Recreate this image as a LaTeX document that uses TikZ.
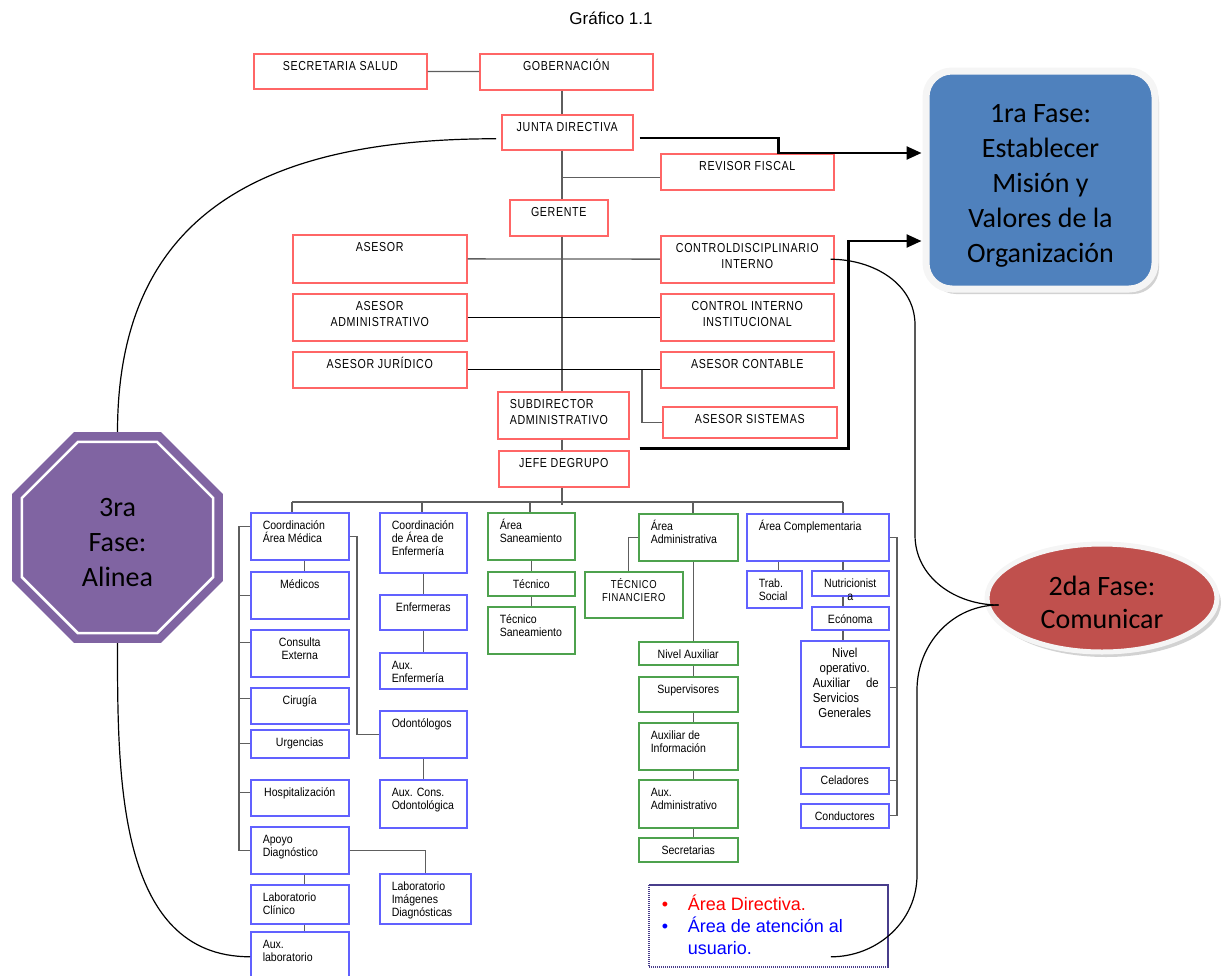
\documentclass[tikz,border=0pt,svgnames]{standalone}
\usepackage{fontspec}
\setmainfont{Liberation Sans}
\newfontfamily\capsfont[LetterSpace=5, FakeStretch=0.82]{Liberation Sans}
\newfontfamily\boxfont[FakeStretch=0.88]{Liberation Sans}
\newfontfamily\fasefont{Carlito}
\usepackage{xcolor}
\usetikzlibrary{shapes.geometric, arrows.meta, positioning, calc, shadows}
\colorlet{DirLine}{Red!60}
\colorlet{UsrLine}{Blue!62}
\colorlet{SanLine}{ForestGreen!80}
\colorlet{LinkLine}{DimGray!90!black}
\colorlet{RimLine}{WhiteSmoke}
\colorlet{LegendLine}{DarkSlateBlue}
\definecolor{FaseBlue}{HTML}{4F81BD}
\definecolor{FaseRed}{HTML}{C0504D}
\definecolor{FasePurple}{HTML}{8064A2}

% box size with text set from the top
\tikzset{
    sz/.style 2 args={anchor=north west,
        execute at begin node={\begin{minipage}[c][#2pt][t]{#1pt}\centering\rule{0pt}{17pt}},
        execute at end node={\endgraf\end{minipage}}},
    szl/.style 2 args={anchor=north west,
        execute at begin node={\begin{minipage}[c][#2pt][t]{#1pt}\raggedright\leftskip=12pt\rule{0pt}{17pt}},
        execute at end node={\endgraf\end{minipage}}},
    fase/.style={fill=#1, draw=RimLine, text=black, align=center,
        font=\fasefont\fontsize{28}{35}\selectfont}
}

\begin{document}
\begin{tikzpicture}[
    x=1pt, y=-1pt,
    orgbox/.style={rectangle, inner sep=0pt, fill=white, line width=1.5pt},
    dirbox/.style={orgbox, draw=DirLine, font=\capsfont\fontsize{13}{16}\selectfont},
    usrbox/.style={orgbox, draw=UsrLine, font=\boxfont\fontsize{12}{13}\selectfont},
    sanbox/.style={orgbox, draw=SanLine, font=\boxfont\fontsize{12}{13}\selectfont},
    link/.style={draw=LinkLine, line width=1.3pt},
    solidlink/.style={draw=black, line width=0.9pt},
    faseshadow/.style={drop shadow={shadow xshift=4pt, shadow yshift=-5pt, fill=Gray!70}},
    fasecurve/.style={black, line width=1.2pt},
    fasearrow/.style={black, line width=2.4pt, -{Triangle[length=15pt, width=13pt]}}
]
\clip (0,0) rectangle (1222,975);

\node[font=\fontsize{17}{20}\selectfont] (titulo) at (611,18) {Gráfico 1.1};

% ===================================================================
% AREA DIRECTIVA (red)
% ===================================================================
\node[dirbox, sz={173}{35}] (secsalud) at (253,53) {SECRETARIA SALUD};
\node[dirbox, sz={173}{36}] (gob) at (479,53) {GOBERNACIÓN};
\node[dirbox, sz={131}{35}] (junta) at (501,114) {JUNTA DIRECTIVA};
\node[dirbox, sz={173}{36}] (revisor) at (660,153) {REVISOR FISCAL};
\node[dirbox, sz={98}{36}] (gerente) at (509,199) {GERENTE};
\node[dirbox, sz={174}{48}] (asesor) at (292,234) {ASESOR};
\node[dirbox, sz={173}{47}] (ctrldisc) at (660,235) {CONTROLDISCIPLINARIO\\INTERNO};
\node[dirbox, sz={174}{47}] (asesadm) at (292,293) {ASESOR\\ADMINISTRATIVO};
\node[dirbox, sz={173}{47}] (ctrlint) at (660,293) {CONTROL INTERNO\\INSTITUCIONAL};
\node[dirbox, sz={174}{36}] (asesjur) at (292,351) {ASESOR JURÍDICO};
\node[dirbox, sz={173}{36}] (contable) at (660,351) {ASESOR CONTABLE};
\node[dirbox, szl={131}{47}] (subdir) at (497,391) {SUBDIRECTOR\\ADMINISTRATIVO};
\node[dirbox, sz={174}{31}] (sistemas) at (662,406) {ASESOR SISTEMAS};
\node[dirbox, sz={130}{36}] (jefe) at (498,450) {JEFE DEGRUPO};

% ===================================================================
% AREA DE ATENCION AL USUARIO (blue / green)
% ===================================================================
% --- Area medica ---
\node[usrbox, szl={98}{47}] (medica) at (250,512) {Coordinación\\Área Médica};
\node[usrbox, sz={98}{47}] (medicos) at (250,571) {Médicos};
\node[usrbox, sz={98}{47}] (consulta) at (250,629) {Consulta\\Externa};
\node[usrbox, sz={98}{36}] (cirugia) at (250,687) {Cirugía};
\node[usrbox, sz={98}{28}] (urgencias) at (250,729) {Urgencias};
\node[usrbox, sz={98}{36}] (hosp) at (250,779) {Hospitalización};
\node[usrbox, szl={98}{47}] (apoyo) at (250,826) {Apoyo\\Diagnóstico};
\node[usrbox, szl={98}{39}] (labclin) at (250,884) {Laboratorio\\Clínico};
\node[usrbox, szl={98}{50}] (auxlab) at (250,931) {Aux.\\laboratorio};

% --- Enfermeria ---
\node[usrbox, szl={87}{60}] (enfcoord) at (379,512) {Coordinación\\de Área de\\Enfermería};
\node[usrbox, sz={87}{35}] (enfermeras) at (379,594) {Enfermeras};
\node[usrbox, szl={87}{36}] (auxenf) at (379,652) {Aux.\\Enfermería};
\node[usrbox, szl={87}{47}] (odonto) at (379,710) {Odontólogos};
\node[usrbox, szl={87}{48}] (auxodon) at (379,779) {Aux. Cons.\\Odontológica};
\node[usrbox, szl={91}{50}] (labimg) at (379,873) {Laboratorio\\Imágenes\\Diagnósticas};

% --- Saneamiento ---
\node[sanbox, szl={87}{47}] (saneam) at (487,512) {Área\\Saneamiento};
\node[sanbox, sz={87}{24}] (tecnico) at (487,571) {Técnico};
\node[sanbox, szl={87}{47}] (tecsan) at (487,606) {Técnico\\Saneamiento};

% --- Administrativa ---
\node[sanbox, szl={99}{47}] (admin) at (638,513) {Área\\Administrativa};
\node[sanbox, sz={98}{46}, font=\capsfont\fontsize{11.5}{13}\selectfont] (tecfin) at (584,571) {TÉCNICO\\FINANCIERO};
\node[sanbox, sz={99}{23}] (nivelaux) at (638,641) {Nivel Auxiliar};
\node[sanbox, sz={99}{35}] (superv) at (638,676) {Supervisores};
\node[sanbox, szl={99}{47}] (auxinfo) at (638,722) {Auxiliar de\\Información};
\node[sanbox, szl={99}{48}] (auxadm) at (638,779) {Aux.\\Administrativo};
\node[sanbox, sz={99}{24}] (secret) at (638,837) {Secretarias};

% --- Complementaria ---
\node[usrbox, szl={142}{47}] (comp) at (746,513) {Área Complementaria};
\node[usrbox, szl={55}{37}] (trab) at (746,570) {Trab.\\Social};
\node[usrbox, sz={77}{25}] (nutri) at (811,570) {Nutricionist\\a};
\node[usrbox, sz={77}{23}] (economa) at (811,606) {Ecónoma};
\node[usrbox, sz={88}{106}, font=\boxfont\fontsize{13}{15}\selectfont] (nivelop) at (800,640)
    {Nivel\\operativo.\endgraf\raggedright\leftskip=12pt\rightskip=10pt plus 1fil
     Auxiliar\hfill de\\Servicios\\Generales};
\node[usrbox, sz={88}{26}] (celad) at (800,767) {Celadores};
\node[usrbox, sz={88}{24}] (conduct) at (800,803) {Conductores};

% ===================================================================
% ORG LINES
% ===================================================================
\coordinate (spine) at (562,0);
\coordinate (busL) at (292,502);
\coordinate (busR) at (843,502);
\coordinate (railM) at (239,0);
\coordinate (railC) at (897,0);
\coordinate (spineC) at (843,0);

\draw[link] (secsalud) -- (gob);
\draw[link] (gob.south -| spine) -- (junta.north -| spine);
\draw[link] (junta.south -| spine) -- (gerente.north -| spine);
\draw[link] (gerente.south -| spine) -- (subdir.north -| spine);
\draw[link] (subdir.south -| spine) -- (jefe.north -| spine);
\draw[link] (jefe.south -| spine) -- ($(busL -| spine)+(0,3)$);
\draw[link] ([yshift=-6pt]revisor.west) -- ([yshift=-6pt]revisor.west -| spine);
\draw[link] (asesor) -- (ctrldisc);
\draw[solidlink] (asesadm) -- (ctrlint);
\draw[solidlink] (asesjur) -- (contable);
\draw[link] (sistemas.west) -| ($(contable.west)+(-18,0)$);

% bus and drops
\draw[link] (busL) -- (busR);
\foreach \x/\n in {292/medica, 422/enfcoord, 530/saneam, 693/admin, 843/comp}
    \draw[link] (\x,502) -- (\n.north -| \x,502);

% medica
\draw[link] ([xshift=5pt]medica.south) -- ([xshift=5pt]medicos.north);
\draw[link] ([yshift=10pt]medica.west) -| (apoyo.west -| railM) -- (apoyo.west);
\foreach \n/\s in {medicos/0, consulta/11, cirugia/7, urgencias/0, hosp/5}
    \draw[link] ([yshift=\s pt]\n.west) -- ([yshift=\s pt]\n.west -| railM);
\draw[link] (medica.east) -| ($(odonto.west)+(-22,0)$) -- (odonto.west);
\draw[link] ([xshift=5pt]apoyo.south) -- ([xshift=5pt]labclin.north);
\draw[link] ([xshift=5pt]labclin.south) -- ([xshift=5pt]auxlab.north);
\draw[link] (apoyo.east) -| (labimg.north);

% enfermeria, saneamiento
\draw[link] (enfcoord) -- (enfermeras);
\draw[link] (enfermeras) -- (auxenf);
\draw[link] (odonto) -- (auxodon);
\draw[link] (saneam) -- (tecnico);
\draw[link] (tecnico) -- (tecsan);

% administrativa
\foreach \a/\b in {admin/nivelaux, nivelaux/superv, superv/auxinfo, auxinfo/auxadm, auxadm/secret}
    \draw[link] ([xshift=5.5pt]\a.south) -- ([xshift=5.5pt]\b.north);
\draw[link] (admin.west) -| ([xshift=-5pt]tecfin.north);

% complementaria
\draw[link] ([xshift=4.5pt]trab.north) -- ([xshift=4.5pt]trab.north |- comp.south);
\foreach \a/\b in {comp/nutri, nutri/economa, economa/nivelop}
    \draw[link] (\a.south -| spineC) -- (\b.north -| spineC);
\draw[link] (comp.east) -| (conduct.east -| railC) -- (conduct.east);
\draw[link] ([yshift=6pt]nivelop.east) -- ([yshift=6pt]nivelop.east -| railC);
\draw[link] (celad.east) -- (celad.east -| railC);

% ===================================================================
% LEGEND
% ===================================================================
\node[orgbox, draw=LegendLine, line width=1.8pt, dash pattern=on 1.5pt off 0.5pt,
      anchor=north west] (legend) at (648,884) {%
\begin{minipage}[c][82pt][t]{239pt}
\fontsize{18}{22}\selectfont\raggedright\leftskip=39pt
\noindent\rule{0pt}{26pt}\hspace*{-26pt}\makebox[26pt][l]{\color{Red}\textbullet}%
{\color{Red}Área Directiva.}\endgraf
\color{Blue}\noindent\hspace*{-26pt}\makebox[26pt][l]{\textbullet}Área de atención al\\
usuario.
\end{minipage}};

% ===================================================================
% FASES
% ===================================================================
\node[fase=FaseBlue, faseshadow, rectangle, rounded corners=26pt,
      minimum width=229pt, minimum height=218pt, line width=7pt] (fase1)
    at (1040.5,180) {\rule{0pt}{30pt}1ra Fase:\\Establecer\\Misión y\\Valores de la\\Organización};
\node[fase=FaseRed, faseshadow, ellipse, minimum width=230pt, minimum height=108pt,
      line width=5pt, font=\fasefont\fontsize{28}{33}\selectfont] (fase2)
    at (1102,598) {\rule{0pt}{29pt}2da Fase:\\Comunicar};
\node[fase=FasePurple, draw=none, regular polygon, regular polygon sides=8,
      minimum size=228pt, inner sep=0pt] (fase3) at (117.5,537.5) {\rule{0pt}{28pt}3ra\\Fase:\\Alinea};
\node[regular polygon, regular polygon sides=8, minimum size=207pt,
      draw=white, line width=2.5pt] (fase3rim) at (fase3.center) {};

\coordinate (tip1) at ($(fase1.west)+(-1,-27)$);
\coordinate (tip2) at ($(fase1.west)+(-1,61)$);
\coordinate (meet) at ($(fase2.west)+(14,7)$);
\coordinate (c3top) at (915,325);
\coordinate (c3bot) at (915,535);
\coordinate (c4bot) at (917,875);
\coordinate (c4top) at (917,690);

\draw[fasearrow] ($(junta.east)+(6,6)$) -| ($(tip1)+(-143,0)$) -- (tip1);
\draw[fasearrow] ($(subdir.south east)+(10,9)$) -| ($(tip2)+(-73,0)$) -- (tip2);

\draw[fasecurve] ($(junta.west)+(-5,6.5)$) to[out=180, in=90, looseness=1.2] (fase3.north);
\draw[fasecurve] (fase3.south) to[out=-90, in=180] (auxlab.west);
\draw[fasecurve] ($(ctrldisc.east)+(-4,0)$) to[out=0, in=90] (c3top) -- (c3bot)
    to[out=-90, in=180] (meet);
\draw[fasecurve] ($(legend.south east)+(-58,-11)$) to[out=0, in=-90] (c4bot) -- (c4top)
    to[out=90, in=180] (meet);

\end{tikzpicture}
\end{document}
